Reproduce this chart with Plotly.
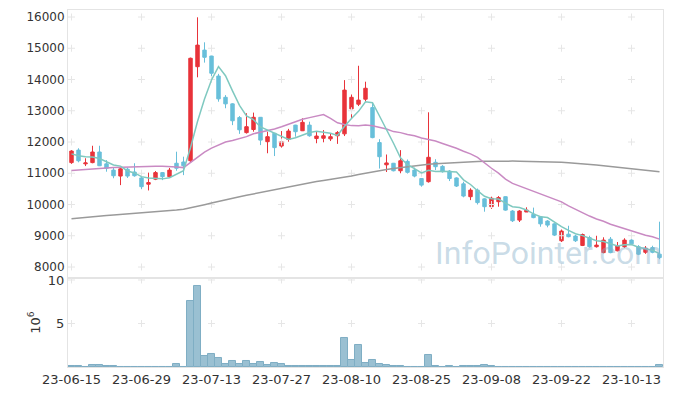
import plotly.graph_objects as go
from plotly.subplots import make_subplots

dates = [
    "2023-06-15", "2023-06-16", "2023-06-19", "2023-06-20", "2023-06-21", "2023-06-22", "2023-06-23",
    "2023-06-26", "2023-06-27", "2023-06-28", "2023-06-29",
    "2023-06-30", "2023-07-03", "2023-07-04", "2023-07-05", "2023-07-06", "2023-07-07", "2023-07-10",
    "2023-07-11", "2023-07-12", "2023-07-13",
    "2023-07-14", "2023-07-17", "2023-07-18", "2023-07-19", "2023-07-20", "2023-07-21", "2023-07-24",
    "2023-07-25", "2023-07-26", "2023-07-27",
    "2023-07-28", "2023-07-31", "2023-08-01", "2023-08-02", "2023-08-03", "2023-08-04", "2023-08-07",
    "2023-08-08", "2023-08-09", "2023-08-10",
    "2023-08-11", "2023-08-14", "2023-08-16", "2023-08-17", "2023-08-18", "2023-08-21", "2023-08-22",
    "2023-08-23", "2023-08-24", "2023-08-25",
    "2023-08-28", "2023-08-29", "2023-08-30", "2023-08-31", "2023-09-01", "2023-09-04", "2023-09-05",
    "2023-09-06", "2023-09-07", "2023-09-08",
    "2023-09-11", "2023-09-12", "2023-09-13", "2023-09-14", "2023-09-15", "2023-09-18", "2023-09-19",
    "2023-09-20", "2023-09-21", "2023-09-22",
    "2023-09-25", "2023-09-26", "2023-09-27", "2023-10-04", "2023-10-05", "2023-10-06", "2023-10-10",
    "2023-10-11", "2023-10-12", "2023-10-13",
    "2023-10-16", "2023-10-17", "2023-10-18", "2023-10-19",
]

opens = [11340, 11740, 11300, 11340, 11680, 11300, 11100, 10910, 11130, 11040,
         10850, 10650, 10810, 11020, 10890, 11320, 11360, 11400, 14410, 14940,
         14750, 14110, 13430, 13220, 12780, 12300, 12400, 12790, 12010, 12280,
         11870, 12080, 12540, 12360, 12540, 12110, 12120, 12100, 12200, 12260,
         13060, 13210, 13370, 13100, 11980, 11270, 11320, 11080, 11380, 11100,
         10830, 10730, 11350, 11220, 11070, 10850, 10660, 10250, 10460, 10180,
         9930, 10090, 10250, 9790, 9500, 9760, 9690, 9610, 9470, 9380,
         8840, 9050, 8990, 8690, 8940, 8650, 8460, 8890, 8520, 8650,
         8860, 8650, 8470, 8620, 8410]
highs = [11740, 11800, 11480, 11880, 11880, 11420, 11180, 11180, 11180, 11320,
         10890, 11020, 11070, 11040, 11170, 11690, 11530, 14700, 15990, 15190,
         14760, 14180, 13500, 13240, 12830, 12920, 12940, 12800, 12330, 12290,
         12350, 12420, 12550, 12760, 12650, 12350, 12380, 12280, 12350, 13980,
         13520, 14440, 13930, 13270, 12090, 11600, 11330, 11740, 11440, 11180,
         10840, 12950, 11450, 11260, 11100, 10870, 10730, 10520, 10510, 10200,
         10250, 10270, 10260, 9820, 9820, 9910, 9900, 9620, 9500, 9400,
         9200, 9320, 9030, 9070, 9000, 9000, 8950, 8960, 8800, 8920,
         8900, 8700, 8670, 8680, 9450]
lows = [11300, 11350, 11230, 11320, 11230, 11050, 10840, 10620, 10850, 10890,
        10490, 10450, 10780, 10780, 10850, 11080, 10940, 11350, 14070, 14540,
        13950, 13290, 13080, 12540, 12260, 12270, 12330, 11900, 11640, 11550,
        11820, 12010, 12170, 12350, 12170, 11960, 11990, 12030, 11940, 12190,
        12740, 13150, 13290, 12120, 11150, 11040, 11060, 11000, 10990, 10870,
        10570, 10700, 11100, 11020, 10750, 10560, 10230, 10140, 10000, 9770,
        9860, 9930, 9800, 9440, 9440, 9760, 9560, 9290, 9270, 8990,
        8800, 8950, 8800, 8670, 8620, 8620, 8440, 8440, 8500, 8610,
        8700, 8380, 8420, 8440, 8250]
closes = [11710, 11400, 11330, 11680, 11240, 11160, 10920, 11140, 10910, 10920,
          10570, 10700, 11020, 10890, 11100, 11160, 11240, 14680, 15100, 14710,
          14200, 13380, 13220, 12680, 12390, 12490, 12790, 12060, 12170, 11820,
          12010, 12350, 12330, 12630, 12200, 12190, 12200, 12170, 12300, 13660,
          13430, 13340, 13720, 12140, 11530, 11330, 11080, 11400, 11030, 10910,
          10620, 11510, 11210, 11050, 10830, 10590, 10270, 10460, 10060, 9930,
          10200, 10220, 9820, 9480, 9790, 9820, 9580, 9380, 9340, 9020,
          9150, 8970, 8840, 9040, 8650, 8700, 8860, 8460, 8680, 8860,
          8740, 8410, 8600, 8470, 8300]

ma5 = [11620, 11560, 11530, 11520, 11472, 11362, 11266, 11228, 11074, 11010,
       10892, 10848, 10824, 10820, 10856, 10974, 11082, 11814, 12656, 13378,
       13986, 14414, 14122, 13638, 13174, 12832, 12714, 12482, 12380, 12266,
       12170, 12082, 12136, 12228, 12304, 12340, 12310, 12278, 12212, 12504,
       12752, 12980, 13290, 13258, 12832, 12412, 11960, 11496, 11274, 11150,
       11008, 11094, 11056, 11060, 11044, 11038, 10790, 10640, 10442, 10262,
       10184, 10174, 10046, 9930, 9902, 9826, 9698, 9610, 9582, 9428,
       9294, 9172, 9064, 9004, 8930, 8840, 8818, 8742, 8670, 8712,
       8720, 8630, 8578, 8536, 8424]
ma20 = [11090, 11110, 11130, 11150, 11160, 11170, 11180, 11190, 11200, 11210,
        11215, 11220, 11220, 11220, 11215, 11200, 11180, 11340, 11520, 11679,
        11804, 11902, 11997, 12047, 12104, 12171, 12264, 12310, 12374, 12418,
        12490, 12573, 12638, 12726, 12780, 12832, 12880, 12754, 12614, 12562,
        12524, 12522, 12546, 12520, 12476, 12418, 12333, 12300, 12243, 12198,
        12128, 12086, 12030, 11951, 11882, 11802, 11706, 11620, 11508, 11322,
        11160, 11004, 10810, 10676, 10590, 10514, 10439, 10338, 10254, 10159,
        10086, 9958, 9840, 9740, 9630, 9536, 9466, 9366, 9296, 9243,
        9170, 9078, 9018, 8967, 8892]
ma60 = [9540, 9565, 9590, 9610, 9630, 9650, 9665, 9680, 9700, 9715,
        9730, 9745, 9765, 9785, 9800, 9820, 9845, 9890, 9940, 9995,
        10050, 10100, 10170, 10210, 10250, 10295, 10340, 10385, 10430, 10480,
        10525, 10565, 10610, 10650, 10690, 10735, 10770, 10800, 10830, 10870,
        10910, 10960, 11005, 11050, 11085, 11120, 11150, 11180, 11210, 11235,
        11260, 11285, 11305, 11320, 11335, 11350, 11360, 11370, 11375, 11382,
        11388, 11392, 11390, 11388, 11385, 11382, 11378, 11374, 11370, 11360,
        11348, 11335, 11322, 11310, 11285, 11260, 11240, 11215, 11190, 11165,
        11140, 11120, 11095, 11075, 11050]

volume_millions = [0.08, 0.08, 0.01, 0.2, 0.2, 0.08, 0.08, 0.01, 0.05, 0.05,
                   0.05, 0.05, 0.05, 0.01, 0.05, 0.3, 0.05, 7.6, 9.3, 1.3,
                   1.55, 1.08, 0.4, 0.65, 0.4, 0.65, 0.4, 0.55, 0.27, 0.42,
                   0.3, 0.15, 0.08, 0.15, 0.15, 0.08, 0.08, 0.08, 0.08, 3.3,
                   0.85, 2.5, 0.5, 0.85, 0.4, 0.27, 0.15, 0.15, 0.04, 0.04,
                   0.04, 1.4, 0.15, 0.04, 0.15, 0.04, 0.15, 0.15, 0.15, 0.27,
                   0.06, 0.05, 0.05, 0.05, 0.05, 0.01, 0.05, 0.05, 0.05, 0.05,
                   0.01, 0.01, 0.01, 0.01, 0.01, 0.01, 0.01, 0.01, 0.01, 0.01,
                   0.01, 0.05, 0.01, 0.01, 0.27]

tick_idx = [0, 10, 20, 30, 40, 50, 60, 70, 80]
tick_labels = ["23-06-15", "23-06-29", "23-07-13", "23-07-27", "23-08-10",
               "23-08-25", "23-09-08", "23-09-22", "23-10-13"]
price_ticks = [8000, 9000, 10000, 11000, 12000, 13000, 14000, 15000, 16000]
vol_ticks = [5, 10]

for arr in (opens, highs, lows, closes, ma5, ma20, ma60, volume_millions):
    assert len(arr) == len(dates), len(arr)

RED = "#E8333A"
BLUE = "#68BFDA"
FONT = "DejaVu Sans"
TXT = "#333333"
BORDER = "#e4e4e4"
CROSS = "#e6e6e6"

fig = make_subplots(rows=2, cols=1, shared_xaxes=True, vertical_spacing=0,
                    row_heights=[0.7507, 0.2493])

tick_dates = [dates[i] for i in tick_idx]

# grid crosses at tick intersections
gx, gy = [], []
for d in tick_dates:
    for p in price_ticks:
        gx.append(d)
        gy.append(p)
fig.add_trace(go.Scatter(x=gx, y=gy, mode="markers", hoverinfo="skip",
                         marker=dict(symbol="cross-thin", size=5,
                                     line=dict(width=1, color=CROSS))),
              row=1, col=1)
vx, vy = [], []
for d in tick_dates:
    for v in vol_ticks:
        vx.append(d)
        vy.append(v)
fig.add_trace(go.Scatter(x=vx, y=vy, mode="markers", hoverinfo="skip",
                         marker=dict(symbol="cross-thin", size=5,
                                     line=dict(width=1, color=CROSS))),
              row=2, col=1)

fig.add_trace(go.Candlestick(
    x=dates, open=opens, high=highs, low=lows, close=closes,
    increasing=dict(line=dict(color=RED, width=1), fillcolor=RED),
    decreasing=dict(line=dict(color=BLUE, width=1), fillcolor=BLUE),
    whiskerwidth=0, hoverinfo="skip"), row=1, col=1)

fig.add_trace(go.Scatter(x=dates, y=ma60, mode="lines",
                         line=dict(color="#9a9a9a", width=1.5), hoverinfo="skip"), row=1, col=1)
fig.add_trace(go.Scatter(x=dates, y=ma20, mode="lines",
                         line=dict(color="#C98AC3", width=1.5), hoverinfo="skip"), row=1, col=1)
fig.add_trace(go.Scatter(x=dates, y=ma5, mode="lines",
                         line=dict(color="#7FC9C0", width=1.5), hoverinfo="skip"), row=1, col=1)

fig.add_trace(go.Bar(x=dates, y=volume_millions,
                     marker=dict(color="#9AC0D2", line=dict(color="#7FAEC4", width=1)),
                     hoverinfo="skip"), row=2, col=1)

# The page body adds an 8px offset, so the figure is sized to fit the window.
fig.update_layout(
    width=665, height=388,
    margin=dict(l=60, r=10, t=2, b=29, autoexpand=False),
    paper_bgcolor="white", plot_bgcolor="white",
    showlegend=False, bargap=0.0,
    font=dict(family=FONT, size=12, color=TXT),
)

common_x = dict(type="category", categoryorder="array", categoryarray=dates,
                range=[-0.5, len(dates) - 0.5], showgrid=False, zeroline=False,
                showline=True, linecolor=BORDER, linewidth=1, mirror=True,
                ticks="", fixedrange=True, automargin=False)
fig.update_xaxes(**common_x)
fig.update_xaxes(showticklabels=False, rangeslider_visible=False, row=1, col=1)
fig.update_xaxes(tickvals=tick_dates, ticktext=tick_labels, showticklabels=True,
                 tickfont=dict(size=13, color=TXT, family=FONT), row=2, col=1)

fig.update_yaxes(range=[7648, 16224], tickvals=price_ticks,
                 ticktext=[str(p) for p in price_ticks], automargin=False,
                 showgrid=False, zeroline=False, showline=True, linecolor=BORDER,
                 mirror=True, ticks="", tickfont=dict(size=12, color=TXT, family=FONT),
                 row=1, col=1)
fig.update_yaxes(range=[0, 10.23], tickvals=vol_ticks, ticktext=["5", "10"],
                 automargin=False,
                 showgrid=False, zeroline=False, showline=True, linecolor=BORDER,
                 mirror=True, ticks="", tickfont=dict(size=13, color=TXT, family=FONT),
                 title=dict(text="10<sup>6</sup>", font=dict(size=13, color=TXT, family=FONT),
                            standoff=4),
                 row=2, col=1)

fig.add_annotation(text="InfoPointer.com", xref="paper", yref="paper",
                   x=0.807, y=0.319, xanchor="center", yanchor="middle",
                   showarrow=False,
                   font=dict(family="Roboto", size=32, color="rgba(135,175,202,0.45)"))

fig.write_html("out.html")
